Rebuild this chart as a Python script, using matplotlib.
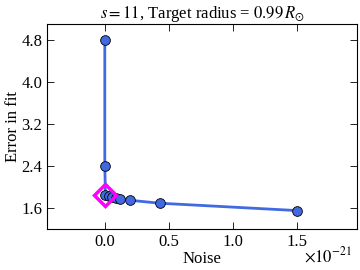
import matplotlib
matplotlib.use("Agg")
import matplotlib.pyplot as plt
import numpy as np

noise = [0.0, 0.0, 0.005, 0.03, 0.06, 0.09, 0.12, 0.2, 0.43, 1.5]
error = [4.8, 2.4, 1.85, 1.82, 1.80, 1.785, 1.765, 1.745, 1.69, 1.55]
best_noise = 0.0
best_error = 1.85
scale = 1e-21

plt.rcParams['font.family'] = ['Liberation Serif', 'DejaVu Serif']
plt.rcParams['mathtext.fontset'] = 'stix'

fig = plt.figure(figsize=(3.6, 2.7), dpi=100)
ax = fig.add_axes([0.131, 0.152, 0.861, 0.759])

x = np.array(noise)
ax.plot(x, error, '-', color='royalblue', lw=2, zorder=2)
ax.plot(x, error, 'o', color='royalblue', mec='black', mew=0.6, ms=7, zorder=3)
ax.plot(best_noise, best_error, 'D', mfc='none', mec='magenta', mew=2.5, ms=11, zorder=4)

ax.set_xlim(-0.45, 1.97)
ax.set_ylim(1.2, 5.1)
ax.set_xticks([0.0, 0.5, 1.0, 1.5])
ax.set_yticks([1.6, 2.4, 3.2, 4.0, 4.8])
ax.tick_params(direction='in', top=True, right=True, labelsize=12, length=5, width=0.6)
for s in ax.spines.values():
    s.set_linewidth(0.8)

# multiplier for the x axis, placed like the usual offset text
exp = int(np.log10(scale))
fig.text(0.978, 0.015, r'$\times10^{%d}$' % exp, ha='right', va='bottom', fontsize=12)

ax.set_xlabel('Noise', fontsize=12, labelpad=1)
ax.set_ylabel('Error in fit', fontsize=12, labelpad=0)
ax.set_title(r'$s = 11$, Target radius = $0.99\,R_{\odot}$', fontsize=12, pad=4)

fig.savefig('out.png', dpi=100)
